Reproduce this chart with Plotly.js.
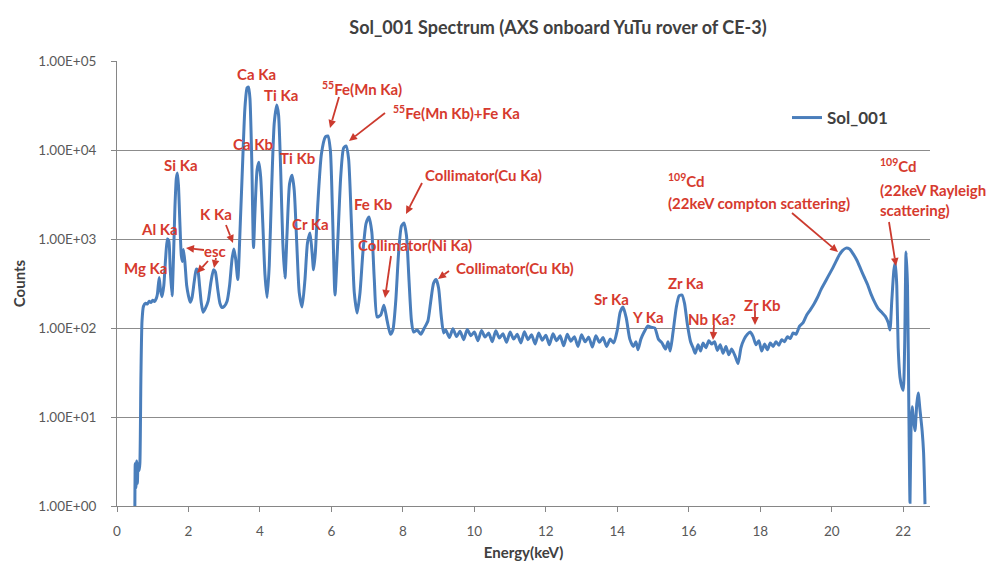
<!DOCTYPE html>
<html>
<head>
<meta charset="utf-8">
<script src="https://cdn.plot.ly/plotly-3.0.1.min.js"></script>
<style>html,body{margin:0;padding:0;background:#fff;}#chart{width:997px;height:563px;}</style>
</head>
<body>
<div id="chart"></div>
<script>
// ---- data ----
const seriesName = "Sol_001";
const energy = [
0.50,0.51,0.53,0.55,0.57,0.59,0.62,0.64,0.67,0.70,0.74,0.80,0.85,0.90,0.95,1.00,1.05,1.10,
1.13,1.18,1.22,1.26,1.31,1.36,1.41,1.45,1.49,1.54,1.58,1.62,1.66,1.69,1.72,1.76,1.80,1.83,1.86,1.90,1.95,
2.00,2.05,2.10,2.16,2.22,2.26,2.31,2.36,2.41,2.47,2.55,2.63,2.70,2.75,2.82,2.88,2.94,
3.00,3.08,3.15,3.22,3.27,3.32,3.38,3.45,3.52,3.58,3.64,3.68,3.72,3.77,3.82,3.86,3.92,3.97,
4.02,4.08,4.14,4.20,4.26,4.33,4.40,4.47,4.52,4.58,4.64,4.70,4.76,4.83,4.90,4.96,
5.03,5.10,5.18,5.26,5.33,5.40,5.46,5.50,5.55,5.62,5.72,5.83,5.90,5.97,
6.03,6.10,6.17,6.26,6.34,6.41,6.48,6.56,6.64,6.72,6.80,6.88,6.97,
7.05,7.13,7.20,7.28,7.38,7.47,7.56,7.65,7.72,7.80,7.88,7.96,
8.03,8.10,8.17,8.24,8.30,8.40,8.50,8.60,8.70,8.78,8.86,8.93,
9.00,9.07,9.14,9.2,9.3,9.4,9.5,9.6,9.7,9.8,9.9,
10.0,10.1,10.2,10.3,10.4,10.5,10.6,10.7,10.8,10.9,
11.0,11.1,11.2,11.3,11.4,11.5,11.6,11.7,11.8,11.9,
12.0,12.1,12.2,12.3,12.4,12.5,12.6,12.7,12.8,12.9,
13.0,13.1,13.2,13.3,13.4,13.5,13.6,13.7,13.8,13.9,
14.0,14.08,14.16,14.25,14.35,14.45,14.52,14.58,14.66,14.75,14.85,14.95,
15.05,15.15,15.25,15.35,15.42,15.48,15.56,15.65,15.73,15.81,15.88,15.96,
16.05,16.12,16.18,16.26,16.33,16.40,16.48,16.56,16.64,16.72,16.80,16.88,16.96,
17.04,17.12,17.20,17.30,17.38,17.46,17.55,17.64,17.72,17.80,17.88,17.96,
18.04,18.12,18.20,18.28,18.36,18.44,18.52,18.60,18.68,18.76,18.84,18.92,
19.00,19.10,19.20,19.30,19.40,19.50,19.60,19.70,19.80,19.90,
20.00,20.10,20.20,20.30,20.40,20.50,20.60,20.70,20.80,20.90,
21.00,21.10,21.20,21.30,21.40,21.50,21.58,21.63,21.68,21.74,21.78,21.82,21.86,21.91,21.96,
22.00,22.04,22.08,22.12,22.16,22.19,22.22,22.25,22.29,22.33,22.38,22.42,22.47,22.53,22.57,22.61
];
const counts = [
1.0,3.0,1.6,3.2,1.8,3.0,2.5,3,30,120,175,190,186,200,193,205,198,215,
240,370,260,225,300,600,1000,950,450,230,600,2200,4800,5500,4000,1500,650,560,760,550,300,
230,195,220,330,460,450,300,190,150,165,200,330,450,430,270,190,170,
175,200,300,600,770,600,350,1500,8000,30000,50000,51000,38000,8000,800,2000,6000,7300,
5000,1500,400,220,500,4000,20000,32000,25000,6000,900,365,1200,4200,5200,3500,
900,250,172,350,900,1170,700,450,700,2500,9000,14000,14400,10000,
2000,235,800,5000,10500,11100,8000,1500,250,147,250,700,1500,
1770,1200,350,133,140,180,120,85,95,200,700,1400,
1510,1100,350,120,90,95,85,100,120,200,320,350,
280,140,88,95,78,98,80,92,74,96,82,
90,72,94,79,88,70,93,77,86,69,
90,75,85,68,91,74,84,66,88,73,
83,65,86,72,82,63,85,71,80,62,
84,70,79,61,82,69,78,62,75,68,
95,150,172,130,75,62,70,57,75,90,105,102,
100,75,68,58,70,55,90,170,230,235,190,110,
70,60,52,65,55,68,60,72,66,70,56,65,52,
62,50,58,48,40,60,75,85,90,80,65,72,
55,66,57,68,62,70,64,74,70,80,76,88,
85,105,115,140,160,185,220,270,320,380,
450,540,650,740,790,770,680,580,470,380,
310,240,195,165,150,135,115,95,200,450,540,300,60,28,22,
20,60,714,300,10,1.1,8,13,9,7,14,18.6,12,7,4,1.05
];
const xTickVals = [0,2,4,6,8,10,12,14,16,18,20,22];
const yTickVals = [1,10,100,1000,10000,100000];
const yTickText = ["1.00E+00","1.00E+01","1.00E+02","1.00E+03","1.00E+04","1.00E+05"];

// ---- labels (peak identifications) ----
const labels = [
 ["Ca Ka",256,74,"center"],["Ti Ka",281,95,"center"],["Ca Kb",253,144,"center"],
 ["Ti Kb",297,158,"center"],["Si Ka",181,165,"center"],["Al Ka",159,229,"center"],
 ["K Ka",216,214,"center"],["Mg Ka",145,268,"center"],["Cr Ka",310,224,"center"],
 ["Fe Kb",373,204,"center"],["<sup>55</sup>Fe(Mn Ka)",362,89,"center"],
 ["<sup>55</sup>Fe(Mn Kb)+Fe Ka",456,112,"center"],["Collimator(Cu Ka)",483,175,"center"],
 ["Collimator(Ni Ka)",415,245,"center"],["Collimator(Cu Kb)",515,268,"center"],
 ["Sr Ka",611,299,"center"],["Y Ka",648,317,"center"],["Zr Ka",686,283,"center"],
 ["Nb Ka?",712,319,"center"],["Zr Kb",762,305,"center"],["esc",215,251,"center"],
 ["<sup>109</sup>Cd",666,180,"left"],["(22keV compton scattering)",666,203,"left"],
 ["<sup>109</sup>Cd",878,165,"left"],["(22keV Rayleigh",878,190,"left"],["scattering)",878,210,"left"]
];
const arrows = [
 [339,97,330,128],[385,113,349,141],[226,225,233,243],[204,250,186,248],[208,261,197,273],
 [216,258,214,268],[422,183,406,214],[391,256,385,298],[449,271,438,279],[714,325,713,340],
 [755,311,755,325],[792,213,838,252],[889,222,896,266]
];

// plot-area geometry (pixels)
const L=117, R=930, T=61, B=506;
const px2x = p => (p-L)/(R-L);
const py2y = p => (B-p)/(B-T);
const red = "#d63a2e";
const FAM = "Lato, 'Open Sans', sans-serif";
const annFont = {family:FAM, size:15, color:red};

const annotations = labels.map(([t,x,y,al]) => ({
  xref:"paper", yref:"paper", x:px2x(x), y:py2y(y), text:"<b>"+t+"</b>",
  showarrow:false, xanchor:al, yanchor:"middle", font:annFont
}));

// arrows as line + filled head shapes
const shapes = [];
arrows.forEach(([x0,y0,x1,y1]) => {
  const dx=x1-x0, dy=y1-y0, len=Math.hypot(dx,dy), ux=dx/len, uy=dy/len;
  const hl=8, hw=3.8;
  const bx=x1-ux*hl, by=y1-uy*hl;
  shapes.push({type:"line", xref:"paper", yref:"paper", x0:px2x(x0), y0:py2y(y0), x1:px2x(bx), y1:py2y(by),
    line:{color:"#cc3a2e", width:1.8}});
  const p1=[bx-uy*hw, by+ux*hw], p2=[bx+uy*hw, by-ux*hw];
  shapes.push({type:"path", xref:"paper", yref:"paper",
    path:`M ${px2x(x1)} ${py2y(y1)} L ${px2x(p1[0])} ${py2y(p1[1])} L ${px2x(p2[0])} ${py2y(p2[1])} Z`,
    fillcolor:"#cc3a2e", line:{width:0}});
});

const trace = {
  x: energy, y: counts, type:"scatter", mode:"lines", name:"<b>"+seriesName+"</b>",
  line:{color:"#4a7ebb", width:3, shape:"spline", smoothing:0.6}
};

const tickFont = {family:FAM, size:13.5, color:"#595959"};
const layout = {
  width:997, height:563,
  margin:{l:L, r:997-R, t:T, b:563-B},
  paper_bgcolor:"#ffffff", plot_bgcolor:"#ffffff",
  title:{text:"<b>Sol_001 Spectrum (AXS onboard YuTu rover of CE-3)</b>",
    xref:"container", x:558/997, xanchor:"center", yref:"container", y:1-28/563, yanchor:"middle",
    font:{family:FAM, size:18, color:"#404040"}},
  xaxis:{range:[0,22.75], tickvals:xTickVals, ticks:"outside", ticklen:5, tickcolor:"#868686",
    showgrid:false, showline:true, linecolor:"#868686", linewidth:1, zeroline:false,
    tickfont:tickFont, ticklabelstandoff:8,
    title:{text:"<b>Energy(keV)</b>", standoff:9, font:{family:FAM, size:15, color:"#404040"}}},
  yaxis:{type:"log", range:[0,5], tickvals:yTickVals, ticktext:yTickText, ticks:"outside",
    ticklen:5, tickcolor:"#868686", showgrid:true, gridcolor:"#8c8c8c", gridwidth:1,
    showline:true, linecolor:"#868686", linewidth:1, zeroline:false,
    tickfont:tickFont, ticklabelstandoff:12,
    title:{text:"<b>Counts</b>", standoff:9, font:{family:FAM, size:15, color:"#404040"}}},
  showlegend:true,
  legend:{x:px2x(787), y:py2y(118), xanchor:"left", yanchor:"middle", bgcolor:"rgba(0,0,0,0)",
    font:{family:FAM, size:17, color:"#404040"}},
  annotations: annotations,
  shapes: shapes
};

Plotly.newPlot("chart", [trace], layout, {displayModeBar:false, staticPlot:true});
</script>
</body>
</html>
